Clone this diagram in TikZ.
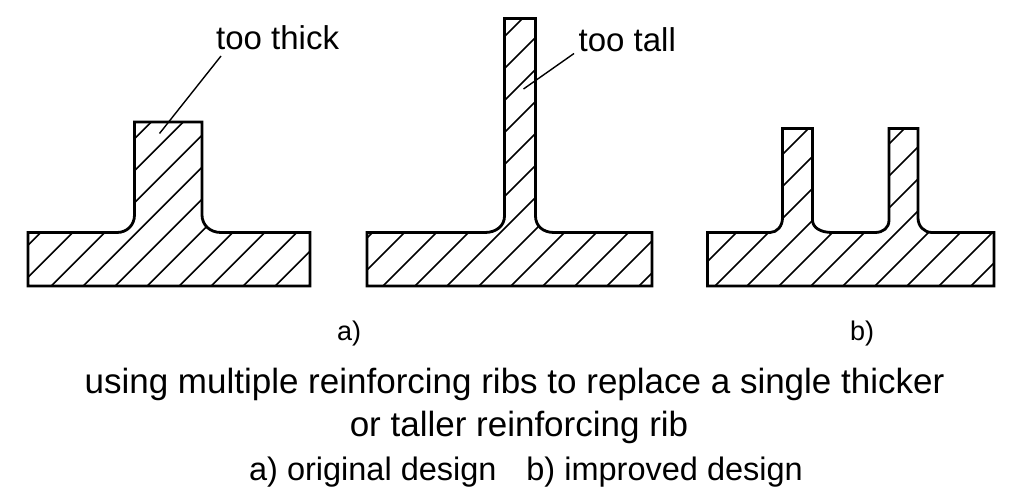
\documentclass[tikz,border=0pt]{standalone}
\usepackage{fontspec}
\setmainfont{Liberation Sans}
\tikzset{
  outline/.style={draw=black,line width=2.8pt,line join=miter},
  hatchline/.style={draw=black,line width=1.6pt},
  leader/.style={draw=black,line width=1.4pt},
  lab/.style={inner sep=0pt,anchor=base,font=\fontsize{27}{27}\selectfont},
  calltext/.style={inner sep=0pt,anchor=base west,font=\fontsize{33}{33}\selectfont},
  captext/.style={inner sep=0pt,anchor=base,font=\fontsize{35}{35}\selectfont},
  captextb/.style={inner sep=0pt,anchor=base,font=\fontsize{32.5}{32.5}\selectfont}
}
\begin{document}
\begin{tikzpicture}[x=1pt,y=-1pt]
\useasboundingbox (0,0) rectangle (1032,500);
\fill[white] (0,0) rectangle (1032,500);
% --- left part
\def\ribA{(28,232.5) -- (117,232.5) .. controls (127,232.5) and (134.5,225) .. (134.5,215) -- (134.5,122) -- (202,122) -- (202,215) .. controls (202,225) and (210,232.5) .. (221,232.5) -- (310,232.5) -- (310,286) -- (28,286) -- cycle}
\begin{scope}
\clip \ribA;
\foreach \k in {0,...,9} {
  \pgfmathsetmacro{\c}{273.3+32*\k}
  \draw[hatchline] (\c-300,300) -- (\c+100,-100);
}
\end{scope}
\draw[outline] \ribA;
% --- middle part
\def\ribB{(367,232.5) -- (485,232.5) .. controls (496,232.5) and (504.5,226) .. (504.5,216) -- (504.5,18.5) -- (535.5,18.5) -- (535.5,216) .. controls (535.5,226) and (543,232.5) .. (554,232.5) -- (652,232.5) -- (652,286) -- (367,286) -- cycle}
\begin{scope}
\clip \ribB;
\foreach \k in {0,...,12} {
  \pgfmathsetmacro{\c}{541+32*\k}
  \draw[hatchline] (\c-300,300) -- (\c+100,-100);
}
\end{scope}
\draw[outline] \ribB;
% --- right part
\def\ribC{(707.5,232.5) -- (770,232.5) .. controls (777,232.5) and (782.5,226) .. (782.5,218) -- (782.5,128.5) -- (812.5,128.5) -- (812.5,220) .. controls (812.5,228) and (821,232.5) .. (832,232.5) -- (875,232.5) .. controls (883,232.5) and (889,228) .. (889,220) -- (889,128.5) -- (918,128.5) -- (918,218) .. controls (918,226) and (924,232.5) .. (932,232.5) -- (994,232.5) -- (994,286) -- (707.5,286) -- cycle}
\begin{scope}
\clip \ribC;
\foreach \k in {0,...,10} {
  \pgfmathsetmacro{\c}{937+32*\k}
  \draw[hatchline] (\c-300,300) -- (\c+100,-100);
}
\end{scope}
\draw[outline] \ribC;
% --- callouts
\node[calltext] (thick) at (216,50) {too thick};
\node[calltext] (tall) at (578.5,52) {too tall};
\coordinate (thickend) at (159.5,133.5);
\coordinate (tallend) at (523.5,89);
\coordinate (thickstart) at (221,56);
\coordinate (tallstart) at (574,53.5);
\draw[leader] (thickstart) -- (thickend);
\draw[leader] (tallstart) -- (tallend);
% --- labels
\node[lab] (la) at (349,340) {a)};
\node[lab] (lb) at (862,340) {b)};
\node[captext] (l1) at (514.5,393) {using multiple reinforcing ribs to replace a single thicker};
\node[captext] (l2) at (519,436) {or taller reinforcing rib};
\node[captextb] (l3) at (526,480.5) {a) original design\hspace{0.64em} b) improved design};
\end{tikzpicture}
\end{document}
